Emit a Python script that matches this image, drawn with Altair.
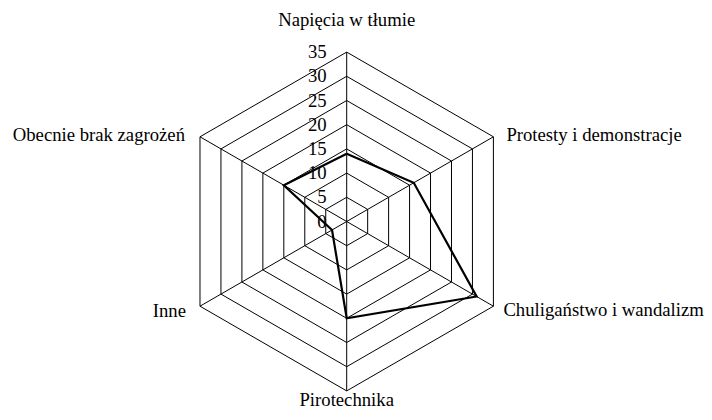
import math
import altair as alt
import pandas as pd

categories = ["Napięcia w tłumie", "Protesty i demonstracje", "Chuligaństwo i wandalizm",
              "Pirotechnika", "Inne", "Obecnie brak zagrożeń"]
values = [14, 16, 31, 20, 3.5, 15]
tick_levels = [0, 5, 10, 15, 20, 25, 30, 35]
max_level = 35

FONT = "Liberation Serif"
FS = 18.7

n = len(categories)
ANGLE = "datum.idx * 2 * PI / %d" % n

# polygon of the series (closed by repeating the first point)
poly_df = pd.DataFrame({
    "idx": list(range(n)) + [n],
    "value": values + [values[0]],
})

grid_df = pd.DataFrame([
    {"level": lv, "idx": i} for lv in tick_levels if lv > 0 for i in range(n + 1)
])

spoke_df = pd.DataFrame({"idx": list(range(n)), "level": [max_level] * n, "cat": categories})
tick_df = pd.DataFrame({"level": tick_levels, "label": [str(t) for t in tick_levels]})

W, H = 696, 404
PX = 4.84          # pixels per unit
CX, CY = 338.7, 213.5
xscale = alt.Scale(domain=[-CX / PX, (W - CX) / PX], nice=False, zero=False)
yscale = alt.Scale(domain=[-(H - CY) / PX, CY / PX], nice=False, zero=False)

grid = alt.Chart(grid_df).transform_calculate(
    x="datum.level * sin(%s)" % ANGLE, y="datum.level * cos(%s)" % ANGLE
).mark_line(color="black", strokeWidth=1).encode(
    x=alt.X("x:Q", scale=xscale, axis=None),
    y=alt.Y("y:Q", scale=yscale, axis=None),
    detail="level:N",
    order="idx:Q",
)

spokes = alt.Chart(spoke_df).transform_calculate(
    x="datum.level * sin(%s)" % ANGLE, y="datum.level * cos(%s)" % ANGLE, x0="0", y0="0"
).mark_rule(color="black", strokeWidth=1).encode(
    x=alt.X("x0:Q", scale=xscale, axis=None),
    y=alt.Y("y0:Q", scale=yscale, axis=None),
    x2="x:Q",
    y2="y:Q",
)

series = alt.Chart(poly_df).transform_calculate(
    x="datum.value * sin(%s)" % ANGLE, y="datum.value * cos(%s)" % ANGLE
).mark_line(color="black", strokeWidth=2.2).encode(
    x=alt.X("x:Q", scale=xscale, axis=None),
    y=alt.Y("y:Q", scale=yscale, axis=None),
    order="idx:Q",
)

ticks = alt.Chart(tick_df).transform_calculate(x0="0").mark_text(
    align="right", baseline="middle", dx=-20, font=FONT, fontSize=FS, color="black"
).encode(
    x=alt.X("x0:Q", scale=xscale, axis=None),
    y=alt.Y("level:Q", scale=yscale, axis=None),
    text="label:N",
)

label_style = [
    dict(align="center", dx=0, dy=-32),
    dict(align="left", dx=13, dy=-2),
    dict(align="left", dx=10, dy=4),
    dict(align="center", dx=0, dy=9),
    dict(align="right", dx=-14, dy=5),
    dict(align="right", dx=-15, dy=-2),
]
label_layers = []
for i, st in enumerate(label_style):
    label_layers.append(
        alt.Chart(spoke_df).transform_filter("datum.idx == %d" % i).transform_calculate(
            x="datum.level * sin(%s)" % ANGLE, y="datum.level * cos(%s)" % ANGLE
        ).mark_text(baseline="middle", font=FONT, fontSize=FS, color="black", **st).encode(
            x=alt.X("x:Q", scale=xscale, axis=None),
            y=alt.Y("y:Q", scale=yscale, axis=None),
            text="cat:N",
        )
    )

chart = alt.layer(grid, spokes, series, ticks, *label_layers).properties(
    width=W, height=H, autosize=alt.AutoSizeParams(type="none"), padding=0
).configure_view(stroke=None)

chart.save("out.html", embed_options={"renderer": "svg", "actions": False})
